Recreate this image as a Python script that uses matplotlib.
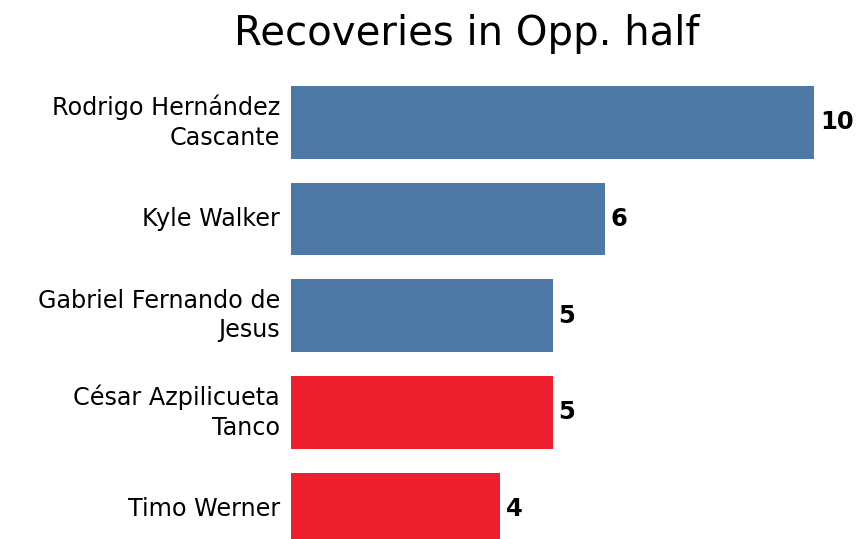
import matplotlib.pyplot as plt

players = ['Rodrigo Hernández\nCascante', 'Kyle Walker', 'Gabriel Fernando de\nJesus',
           'César Azpilicueta\nTanco', 'Timo Werner']
recoveries = [10, 6, 5, 5, 4]
teams = ['home', 'home', 'home', 'away', 'away']

team_colors = {'home': '#4e79a7', 'away': '#ed1f2e'}

W, H = 867, 539
fig = plt.figure(figsize=(W / 100, H / 100), dpi=100)

# place axes by pixel: bars start at x=291, value 10 reaches x=814
left, right = 291 / W, 814 / W
ax = fig.add_axes([left, 0, right - left, 1])

step = 96.67
top_center = 122.3
ax.set_ylim(4 + (H - (top_center + 4 * step)) / step, -top_center / step)
ax.set_xlim(0, 10)

ypos = list(range(len(players)))
colors = [team_colors[t] for t in teams]
ax.barh(ypos, recoveries, height=0.75, color=colors)

for y, v in zip(ypos, recoveries):
    ax.annotate(str(v), (v, y), xytext=(4.3, 0), textcoords='offset points',
                va='center', ha='left', fontsize=17.5, fontweight='bold')

ax.set_yticks(ypos)
ax.set_yticklabels(players, fontsize=17.2, ha='right', va='center', linespacing=1.3)
ax.tick_params(axis='y', length=0, pad=8)
ax.set_xticks([])
for s in ax.spines.values():
    s.set_visible(False)

fig.text(467 / W, 1 - 34 / H, 'Recoveries in Opp. half', ha='center', va='center', fontsize=29)

fig.savefig('out.png', dpi=100)
